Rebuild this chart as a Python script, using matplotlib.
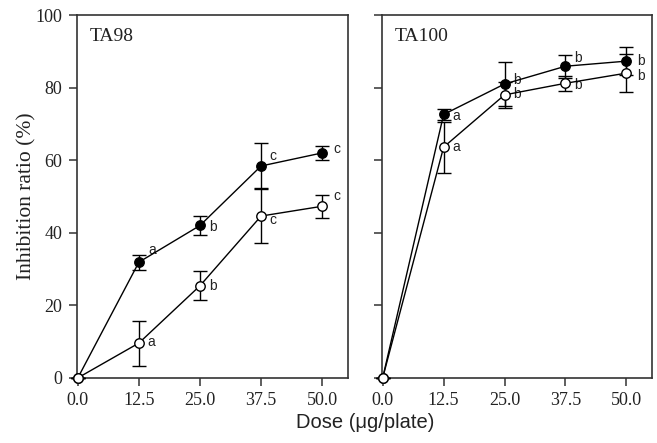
import matplotlib.pyplot as plt
import numpy as np

# Doses (µg/plate)
dose = [0.0, 12.5, 25.0, 37.5, 50.0]
dose_labels = ['0.0', '12.5', '25.0', '37.5', '50.0']

# TA98
ta98_plein = [0.0, 31.9, 42.0, 58.4, 62.0]
ta98_plein_err = [0.0, 2.1, 2.5, 6.2, 2.0]
ta98_vide = [0.0, 9.6, 25.4, 44.6, 47.3]
ta98_vide_err = [0.0, 6.2, 4.0, 7.5, 3.1]
ta98_lettres_plein = ['', 'a', 'b', 'c', 'c']
ta98_lettres_vide = ['', 'a', 'b', 'c', 'c']

# TA100
ta100_plein = [0.0, 72.6, 81.0, 85.9, 87.3]
ta100_plein_err = [0.0, 1.5, 6.0, 3.2, 3.8]
ta100_vide = [0.0, 63.6, 78.0, 81.2, 84.0]
ta100_vide_err = [0.0, 7.0, 3.6, 2.1, 5.3]
ta100_lettres_plein = ['', 'a', 'b', 'b', 'b']
ta100_lettres_vide = ['', 'a', 'b', 'b', 'b']

serif = 'Liberation Serif'
sans = 'Liberation Sans'
gris = '#333333'

fig = plt.figure(figsize=(6.57, 4.43), dpi=100)
ax1 = fig.add_axes([0.117, 0.147, 0.412, 0.819])
ax2 = fig.add_axes([0.581, 0.147, 0.411, 0.819])


def trace(ax, y1, e1, y2, e2, l1, l2, titre, decal1, decal2):
    ax.errorbar(dose, y1, yerr=e1, color='black', lw=1.0, marker='o', ms=6.8,
                mfc='black', mec='black', capsize=5, elinewidth=1.0,
                capthick=1.0, clip_on=False, zorder=3)
    ax.errorbar(dose, y2, yerr=e2, color='black', lw=1.0, marker='o', ms=6.8,
                mfc='white', mec='black', mew=1.0, capsize=5, elinewidth=1.0,
                capthick=1.0, clip_on=False, zorder=4)
    for i in range(len(dose)):
        if l1[i]:
            ax.text(dose[i] + 1.8 + decal1[i][0], y1[i] + decal1[i][1], l1[i],
                    family=sans, fontsize=10, va='center', color='#222222')
        if l2[i]:
            ax.text(dose[i] + 1.8 + decal2[i][0], y2[i] + decal2[i][1], l2[i],
                    family=sans, fontsize=10, va='center', color='#222222')
    ax.set_xlim(-0.2, 55.2)
    ax.set_ylim(0, 100)
    ax.set_xticks(dose)
    ax.set_xticklabels(dose_labels)
    ax.set_yticks(np.arange(0, 101, 20))
    ax.tick_params(direction='out', length=5.5, width=1.1, color=gris,
                   labelsize=13, pad=5)
    for lab in ax.get_xticklabels() + ax.get_yticklabels():
        lab.set_family(serif)
        lab.set_color('#222222')
    for s in ax.spines.values():
        s.set_linewidth(1.2)
        s.set_color(gris)
    ax.text(0.048, 0.964, titre, transform=ax.transAxes, family=serif,
            fontsize=14, va='top', ha='left', color='#222222')


trace(ax1, ta98_plein, ta98_plein_err, ta98_vide, ta98_vide_err,
      ta98_lettres_plein, ta98_lettres_vide, 'TA98',
      [(0, 0), (0.2, 3.4), (0, -0.3), (0, 2.8), (0.4, 1.2)],
      [(0, 0), (0, 0.3), (0, 0), (0, -1.0), (0.4, 2.7)])
trace(ax2, ta100_plein, ta100_plein_err, ta100_vide, ta100_vide_err,
      ta100_lettres_plein, ta100_lettres_vide, 'TA100',
      [(0, 0), (0, -0.4), (0, 1.0), (0, 2.4), (0.4, 0)],
      [(0, 0), (0, 0), (0, 0.3), (0, -0.6), (0.4, -0.9)])
ax2.set_yticklabels([])

ax1.set_ylabel('Inhibition ratio (%)', family=serif, fontsize=15.5,
               labelpad=-1, color='#222222')
fig.text(0.556, 0.047, 'Dose (\u03bcg/plate)', family=sans, fontsize=14.5,
         ha='center', va='center', color='#222222')

fig.savefig('out.png', dpi=100)
